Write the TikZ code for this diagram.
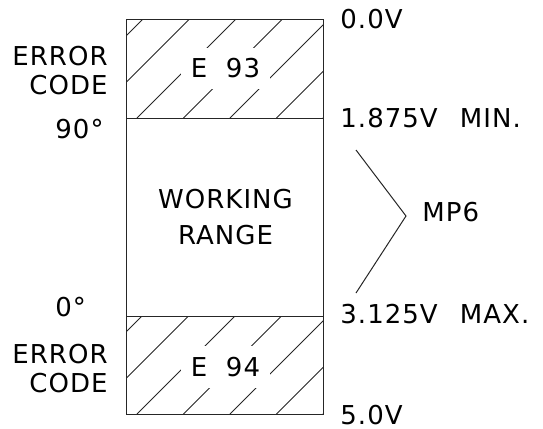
\documentclass[tikz,border=0pt]{standalone}
\usepackage{fontspec}
\setmainfont{DejaVu Sans}[LetterSpace=4]
\usepackage{tikz}
\usetikzlibrary{positioning,calc}

\begin{document}
\begin{tikzpicture}[x=0.5pt,y=-0.5pt,
  lbl/.style={inner sep=0pt,font=\fontsize{13}{14.5}\selectfont},
  wire/.style={black!85,line width=0.5pt}]
\useasboundingbox (0,0) rectangle (543,429);

% Hatching (error bands)
\begin{scope}
\clip (127,19) rectangle (324,118);
\foreach \k in {-2,...,4}
    \draw[wire] ({137+46.5*\k},118) -- ++(100,-100);
\end{scope}
\begin{scope}
\clip (127,316) rectangle (324,414);
\foreach \k in {-2,...,4}
    \draw[wire] ({137+46.5*\k},414) -- ++(100,-100);
\end{scope}

% Frame
\draw[wire] (127,19) rectangle (324,414);
\draw[wire] (127,118) -- (324,118);
\draw[wire] (127,316) -- (324,316);

% Band labels
\node[lbl,fill=white,inner xsep=5pt,inner ysep=5.5pt] (e93) at (225.5,68.5) {E~~93};
\node[lbl,fill=white,inner xsep=5pt,inner ysep=5.5pt] (e94) at (225.5,367) {E~~94};
\node[lbl,align=center] (work) at (225.5,217) {WORKING\\[3.5pt]RANGE};

% Left side
\node[lbl,align=right,anchor=east] (err1) at (108,70.5) {ERROR\\CODE};
\node[lbl,anchor=west] (deg90) at (55,129) {90°};
\node[lbl,anchor=west] (deg0) at (55,307) {0°};
\node[lbl,align=right,anchor=east] (err2) at (108,369) {ERROR\\CODE};

% Right side
\node[lbl,anchor=west] (v0) at (340,19) {0.0V};
\node[lbl,anchor=west] (vmin) at (340,118) {1.875V\hspace{0.85em}MIN.};
\node[lbl,anchor=west] (vmax) at (340,314) {3.125V\hspace{0.85em}MAX.};
\node[lbl,anchor=west] (v5) at (340,415) {5.0V};

% Bracket
\node[lbl,anchor=west] (mp6) at (422,212) {MP6};
\coordinate (brtop) at (356,150);
\coordinate (brtip) at (406,216);
\coordinate (brbot) at (356,293);
\draw[wire] (brtop) -- (brtip) -- (brbot);

\end{tikzpicture}
\end{document}
